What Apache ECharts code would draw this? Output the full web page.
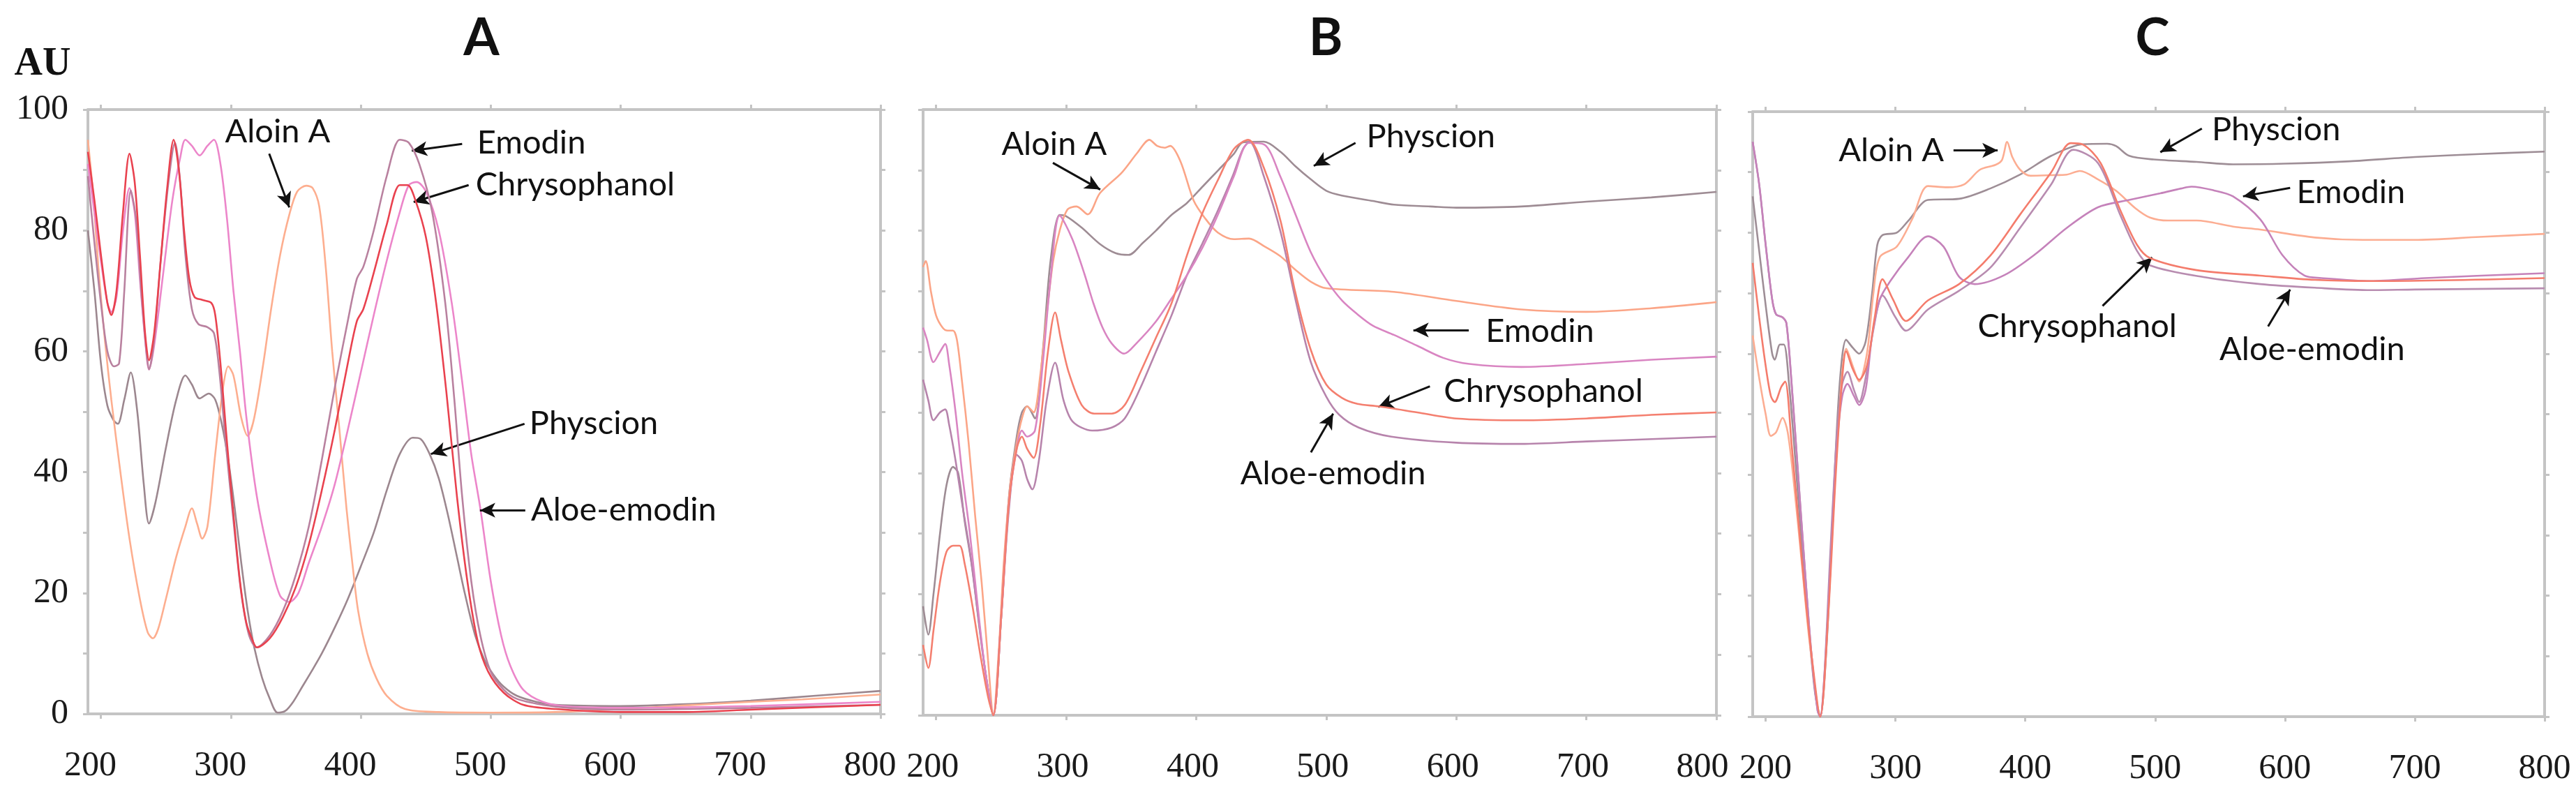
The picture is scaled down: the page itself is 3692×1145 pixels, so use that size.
<!DOCTYPE html>
<html>
<head>
<meta charset="utf-8">
<script src="https://cdn.jsdelivr.net/npm/echarts@6/dist/echarts.min.js"></script>
<style>html,body{margin:0;padding:0;background:#fff}#c{width:3692px;height:1145px}</style>
</head>
<body>
<div id="c"></div>
<script>
// ---------- tick labels ----------
const xTicks = [200, 300, 400, 500, 600, 700, 800];
const yTicks = [0, 20, 40, 60, 80, 100];
const panelTitles = ['A', 'B', 'C'];
const compounds = ['Aloin A', 'Emodin', 'Chrysophanol', 'Physcion', 'Aloe-emodin'];

// ---------- Panel A ----------
const aPhyscion = [[190,80],[195,70],[200,58],[205,51],[210,48.5],[213,48],[218,52],[223,56.5],[228,50],[233,38],[237,31.5],[242,35],[250,44],[258,52],[265,56],[270,54.5],[276,52.2],[283,53],[288,52],[293,48],[298,42],[303,34],[308,25],[313,17],[318,11],[324,6],[330,2.5],[336,0.2],[342,0.5],[348,2],[355,4.5],[362,7],[370,10],[380,14.3],[390,19],[400,24.4],[410,30],[420,37],[430,43],[440,45.7],[446,45.5],[453,43],[460,39],[467,33],[474,26],[480,20],[488,13],[495,9],[502,6.5],[510,4.5],[520,3],[535,2],[550,1.5],[600,1.3],[650,1.6],[700,2.2],[750,3],[800,3.8]];
const aAloinA = [[190,95],[194,86],[198,74],[203,62],[208,52],[215,40],[222,29],[230,19],[236,13.5],[240,12.5],[244,14],[250,19],[258,26],[265,31],[270,34],[274,31.5],[278,29],[282,31],[288,43],[294,54],[298,57.5],[302,56],[308,49],[313,46],[318,49],[325,58],[331,67],[338,76],[345,82.6],[351,86.4],[358,87.4],[363,87],[368,84],[373,74],[378,60],[384,46],[389,34],[394,24],[398,17],[405,10],[412,5.9],[420,3],[434,0.8],[460,0.3],[500,0.2],[550,0.3],[600,0.8],[650,1.4],[700,2],[740,2.4],[800,3.2]];
const aEmodin = [[190,89],[195,78],[200,68],[205,60],[210,57.5],[214,58],[218,70],[223,86.6],[227,82],[231,70],[235,60],[237,57],[241,62],[246,75],[252,88],[257,94.5],[261,88],[265,76],[270,67],[275,64.5],[282,64],[287,63],[291,57],[296,45],[302,32],[308,20],[314,13],[320,11],[330,13],[340,17],[350,23],[360,31],[370,42],[380,54],[390,65],[397,72],[402,74],[410,80],[420,89],[430,95],[437,94.5],[445,91],[455,83],[465,68],[472,52],[478,36],[485,22],[492,13],[500,7],[510,4],[520,2.5],[540,1.5],[560,1],[600,0.7],[700,1],[800,1.5]];
const aChrysophanol = [[190,93],[195,85],[200,76],[205,68],[208,66],[212,70],[217,83],[222,92.7],[226,88],[230,76],[234,63],[237,58.5],[241,63],[246,75],[251,87],[256,95],[260,90],[264,80],[268,72],[272,69],[278,68.5],[285,68],[288,66],[292,58],[297,45],[302,33],[307,22],[312,15],[317,12],[320,11],[330,12.5],[340,16],[350,21],[360,28],[370,37],[380,47],[390,58],[397,65],[402,67],[410,73],[420,81],[430,87.5],[436,87.5],[442,85],[450,79],[458,68],[466,53],[474,36],[482,22],[490,12],[498,7],[510,3.5],[525,1.5],[550,0.8],[600,0.3],[650,0.3],[700,0.7],[750,1.1],[800,1.5]];
const aAloeEmodin = [[190,91],[195,83],[200,75],[205,68],[208,66.5],[212,69],[217,80],[222,87],[226,83],[230,72],[234,62],[237,57],[241,61],[248,73],[255,85],[261,92],[265,95],[270,94],[276,92.4],[282,94],[287,95],[292,91],[297,82],[302,70],[307,60],[312,49],[320,36],[330,25.5],[338,19.5],[345,18.5],[352,20],[360,25],[370,31],[380,38],[390,47],[400,56.5],[410,66],[420,75],[430,83],[437,87.5],[443,88],[450,86.5],[460,80],[470,68],[478,55],[485,43],[492,34],[500,22],[508,13],[515,8],[525,4],[540,2],[560,1.2],[600,1],[700,1.3],[800,2]];

// ---------- Panel B ----------
const bPhyscion = [[190,18],[194,13.3],[198,20],[203,30],[208,38],[213,41],[217,40],[222,32],[228,24],[233,15],[238,7],[244,0],[250,16],[256,36],[262,46],[266,50],[270,51],[276,49],[282,60],[288,75],[295,82.6],[300,82.4],[312,80.5],[326,77.8],[338,76.3],[348,76],[359,78],[369,80],[381,82.6],[393,84.6],[405,87.3],[417,90],[429,92.7],[436,94.6],[452,94.7],[465,93],[476,90.7],[488,88.5],[500,86.6],[512,85.8],[536,84.9],[552,84.3],[580,84],[600,83.8],[650,84],[700,84.8],[750,85.5],[800,86.4]];
const bAloinA = [[190,74],[192,75],[196,70],[200,66],[205,64],[209,63.5],[213,63.5],[216,62],[220,55],[225,45],[230,33],[235,22],[240,9],[244,0],[248,10],[252,25],[257,38],[262,45],[266,49],[270,51],[275,50],[280,56],[285,66],[290,75],[295,80],[301,83.5],[308,84],[316.6,82.7],[326,86.2],[342.8,89.6],[354.5,92.8],[364,95],[370,94],[376,93.7],[380,94],[388,91.4],[398,85],[407,82],[416.6,79.7],[429,78.6],[440.6,78.7],[452.5,77.4],[464.6,75.8],[476.5,73.5],[488,71.6],[500,70.5],[552,69.9],[600,68.4],[650,67],[700,66.6],[750,67.2],[800,68.2]];
const bEmodin = [[190,64],[193,62],[198,58.3],[203,60],[207,61.3],[210,58],[215,50],[220,40],[226,30],[232,18],[238,7],[244,0],[250,16],[256,35],[262,44],[266,47],[270,46],[276,47],[282,58],[288,72],[295,82.5],[304.6,78.7],[314,72.9],[321,68],[328,64],[335,61.4],[344.7,59.7],[354,61.4],[369,65],[381,68.8],[393,72.7],[405,77.3],[416.6,82.6],[429,89],[440.6,94.5],[452.5,94.2],[464.6,89],[476.5,82.6],[488,76.5],[500,71.9],[512,68.5],[524,66.2],[536,64.3],[552,62.8],[570,61],[590,59],[610,58],[650,57.5],[700,58],[750,58.7],[800,59.2]];
const bChrysophanol = [[190,11.6],[194,7.8],[198,14],[203,22],[208,27],[213,28],[218,28],[222,25],[228,18],[234,10],[240,3],[244,0],[250,16],[256,35],[262,44],[266,46],[270,44],[275,42.5],[280,48],[286,60],[291.5,66.5],[296,62],[302,56.6],[312,51.2],[321.5,49.8],[335,49.8],[345,51.2],[357,56.6],[369,62.3],[381,68],[393,76],[405,83],[417,88.5],[429,93.5],[440,95],[452,90.4],[465,81.5],[476,70],[488,60.4],[500,54.6],[512,52.4],[524,51.4],[540,51],[570,50],[600,49],[650,48.7],[700,49],[750,49.6],[800,50]];
const bAloeEmodin = [[190,55.4],[194,52],[198,48.7],[203,50],[207,50.5],[210,48],[215,42],[220,35],[226,27],[232,17],[238,7],[244,0],[250,16],[256,34],[262,43],[266,42],[270,39],[274,37.3],[279,42],[285,52],[291.5,58.2],[298,52],[305,48.5],[320,47],[335,47.5],[345,49],[357,54],[369,60],[381,66],[393,72.7],[405,78],[416.6,83.3],[428,89],[436,93.5],[441,94.7],[452,89],[465,79.7],[477,68],[488,58.4],[500,52.6],[510,49.6],[525,47.5],[550,46],[600,45],[650,44.8],[700,45.2],[750,45.6],[800,46]];

// ---------- Panel C ----------
const cPhyscion = [[190,86],[195,77],[200,68],[205,60],[207,59],[211,61.5],[214,61.5],[218,55],[223,42],[228,28],[233,15],[238,4],[242,0],[247,12],[252,35],[257,55],[262,62.3],[267,61],[272,60],[277,62],[282,70],[286,78],[290,79.6],[301,80],[310,82],[325,85.4],[349,85.6],[373,87.3],[396,89.6],[420,92.7],[444,94.6],[463,94.7],[470,94.3],[480,92.7],[499,92.1],[532,91.7],[560,91.3],[600,91.4],[650,91.8],[700,92.5],[750,93],[800,93.4]];
const cAloinA = [[190,63],[195,56],[200,50],[204,46.4],[208,47],[213,49.4],[217,47],[222,38],[228,25],[234,12],[242,0],[248,17],[254,42],[259,57],[262,60.8],[267,58],[272,55.4],[278,60],[283,70],[288,76],[301,77.7],[313,82.3],[325,87.7],[340,87.5],[353,88],[365,90.4],[377,91.2],[382,92],[386,95],[390,92.5],[396,90.4],[404,89.4],[420,89.5],[432,89.6],[442,90.2],[456,88.8],[470,86.9],[485,84],[496,82.5],[510,82],[532,82],[560,81],[581,80.5],[623,79.2],[660,78.8],[700,78.8],[750,79.3],[800,79.8]];
const cEmodin = [[190,95],[195,88],[200,78],[205,69],[208,66.5],[213,66],[216,65],[220,55],[225,40],[230,25],[235,11],[240,1],[242,0],[245,6],[250,25],[255,45],[259,53],[263,55],[268,53],[272,51.5],[277,54],[282,63],[288,69],[296,72],[310,76],[325,79.4],[337,77.7],[349,72.7],[361,71.5],[384,73],[408,76.5],[432,80.8],[456,84.2],[480,85.4],[504,86.5],[520,87.3],[528,87.6],[545,87],[560,86],[581,82.2],[598,76.3],[615,72.9],[628,72.5],[666,72],[708,72.5],[800,73.3]];
const cChrysophanol = [[190,75],[195,66],[200,58],[204,53],[207,52],[212,54.5],[215,55.4],[220,45],[225,33],[230,21],[236,9],[242,0],[248,16],[254,40],[259,56],[262,60.4],[267,57.5],[272,55.7],[278,58],[284,66],[290,72.3],[298,69],[308,65.4],[325,68.8],[349,71.5],[373,76.2],[396,83],[420,90],[435,94.8],[444,94.6],[458,91.5],[473,83.8],[486,78],[496,75.8],[532,73.8],[581,72.9],[623,72.2],[666,72],[800,72.5]];
const cAloeEmodin = [[190,95],[195,88],[200,78],[205,69],[208,66.5],[213,66],[216,65],[220,55],[225,40],[230,25],[235,11],[240,1],[242,0],[245,6],[250,28],[255,47],[259,55],[263,57],[268,54],[272,52],[277,56],[283,64],[290,69.6],[300,66],[308,63.8],[325,67.3],[349,70.4],[373,74.2],[396,80.8],[420,88],[437,93.7],[456,91.5],[473,83],[486,77],[496,74.6],[539,72.6],[581,71.5],[623,70.9],[666,70.5],[700,70.6],[800,70.8]];

// ---------- annotations (data coordinates) ----------
const annA = [
  {text:'Aloin A', x:336, y:96.3, align:'center', from:[329.5,92.7], to:[345,83.8]},
  {text:'Emodin', x:489.5, y:94.5, align:'left', from:[478,94.3], to:[439.3,93.2]},
  {text:'Chrysophanol', x:488.4, y:87.5, align:'left', from:[483,87.5], to:[440.7,84.7]},
  {text:'Physcion', x:529.8, y:48, align:'left', from:[526,48], to:[454,43]},
  {text:'Aloe-emodin', x:531, y:33.7, align:'left', from:[526.6,33.7], to:[491.7,33.7]}
];
const annB = [
  {text:'Aloin A', x:250.3, y:94.3, align:'left', from:[289.8,91.2], to:[326.2,86.8]},
  {text:'Physcion', x:531, y:95.5, align:'left', from:[522.5,94.5], to:[490.4,90.7]},
  {text:'Emodin', x:622.5, y:63.4, align:'left', from:[609.6,63.6], to:[567,63.6]},
  {text:'Chrysophanol', x:590.4, y:53.5, align:'left', from:[579.7,54.3], to:[540,50.9]},
  {text:'Aloe-emodin', x:505.3, y:39.9, align:'center', from:[488.2,43.4], to:[505.3,49.8]}
];
const annC = [
  {text:'Aloin A', x:256.3, y:93.6, align:'left', from:[344.7,93.6], to:[378.7,93.6]},
  {text:'Physcion', x:543.6, y:97, align:'left', from:[536,97.2], to:[504,93.3]},
  {text:'Emodin', x:609, y:86.6, align:'left', from:[604,87.4], to:[567.7,86]},
  {text:'Chrysophanol', x:440, y:64.5, align:'center', from:[459.5,67.9], to:[497.7,75.9]},
  {text:'Aloe-emodin', x:621, y:60.7, align:'center', from:[587,64.5], to:[604,70.6]}
];

// ---------- styling / layout ----------
const grids = [
  {left:126, top:157, width:1136, height:866},
  {left:1323, top:157, width:1137, height:868},
  {left:2512, top:160, width:1135, height:867}
];
const titlePos = [[690, 55], [1900, 55], [3085, 55]];
const labelShift = [[0, 30, 0, 0], [0, 10, 0, 0], [0, 0, 0, 0]];
const lastLabelShift = [0, 30, 0];
const panelData = [
  {series:[aPhyscion, aAloinA, aAloeEmodin, aEmodin, aChrysophanol], ann:annA,
   colors:['#9C878F','#FDAE8F','#EC86CA','#B9819F','#E9424F']},
  {series:[bPhyscion, bAloinA, bAloeEmodin, bEmodin, bChrysophanol], ann:annB,
   colors:['#9E8C94','#FBA587','#B784AC','#D985C2','#F47F6F']},
  {series:[cPhyscion, cAloinA, cAloeEmodin, cEmodin, cChrysophanol], ann:annC,
   colors:['#9E8E96','#FCAD92','#B88CB0','#C582BA','#F47C6C']}
];
const seriesNames = ['Physcion', 'Aloin A', 'Aloe-emodin', 'Emodin', 'Chrysophanol'];
const AXIS_COLOR = '#C4C4C4';
const LABEL_FONT = {fontFamily:'Liberation Serif', fontSize:50, color:'#1a1a1a'};

const xAxes = [], yAxes = [], series = [];
for (let i = 0; i < 3; i++) {
  ['bottom', 'top'].forEach(pos => {
    xAxes.push({
      type:'value', gridIndex:i, min:190, max:800, position:pos,
      axisLine:{show:true, onZero:false, lineStyle:{color:AXIS_COLOR, width:4}},
      axisTick:{show:true, length:7, customValues:xTicks, lineStyle:{color:AXIS_COLOR, width:3}},
      axisLabel:Object.assign({
        show:pos === 'bottom', customValues:xTicks, margin:50, padding:labelShift[i],
        formatter: v => (v === 800 && lastLabelShift[i] ? '{m|800}' : String(v)),
        rich:{m:Object.assign({padding:[0, lastLabelShift[i], 0, 0]}, LABEL_FONT)}
      }, LABEL_FONT),
      splitLine:{show:false}
    });
  });
  ['left', 'right'].forEach(pos => {
    yAxes.push({
      type:'value', gridIndex:i, min:0, max:100, interval:10, position:pos,
      axisLine:{show:true, onZero:false, lineStyle:{color:AXIS_COLOR, width:4}},
      axisTick:{show:true, length:7, lineStyle:{color:AXIS_COLOR, width:3}},
      axisLabel:Object.assign({show:(i === 0 && pos === 'left'), margin:28,
        formatter: v => (yTicks.indexOf(v) >= 0 ? String(v) : '')}, LABEL_FONT),
      splitLine:{show:false}
    });
  });
}

panelData.forEach((p, i) => {
  p.series.forEach((d, k) => {
    const s = {
      type:'line', name:panelTitles[i] + ' ' + seriesNames[k],
      xAxisIndex:i * 2, yAxisIndex:i * 2, data:d,
      showSymbol:false, smooth:0.3, clip:true, silent:true, animation:false,
      lineStyle:{color:p.colors[k], width:2.6}, itemStyle:{color:p.colors[k]}, z:2 + k
    };
    if (k === 0) {
      s.markLine = {
        silent:true, animation:false, symbol:['none', 'arrow'], symbolSize:[16, 22],
        lineStyle:{color:'#111', width:3, type:'solid'}, label:{show:false},
        emphasis:{disabled:true},
        data:p.ann.map(a => [{coord:a.from}, {coord:a.to}])
      };
    }
    series.push(s);
  });
});

const chart = echarts.init(document.getElementById('c'), null, {width:3692, height:1145});
chart.setOption({
  backgroundColor:'#ffffff', animation:false,
  grid:grids, xAxis:xAxes, yAxis:yAxes, series:series
});

const graphics = [];
panelTitles.forEach((t, i) => {
  graphics.push({type:'text', x:titlePos[i][0], y:titlePos[i][1],
    style:{text:t, font:'bold 74px Lato', fill:'#111', align:'center', verticalAlign:'middle', textAlign:'center', textVerticalAlign:'middle'}});
});
graphics.push({type:'text', x:61, y:93,
  style:{text:'AU', font:'bold 56px "Liberation Serif"', fill:'#111', align:'center', verticalAlign:'middle', textAlign:'center', textVerticalAlign:'middle'}});
panelData.forEach((p, i) => {
  p.ann.forEach(a => {
    const px = chart.convertToPixel({xAxisIndex:i * 2, yAxisIndex:i * 2}, [a.x, a.y]);
    graphics.push({type:'text', x:px[0], y:px[1], z:10,
      style:{text:a.text, font:'47px Lato', fill:'#111', align:a.align, verticalAlign:'middle', textAlign:a.align, textVerticalAlign:'middle'}});
  });
});
chart.setOption({graphic:graphics});
</script>
</body>
</html>
